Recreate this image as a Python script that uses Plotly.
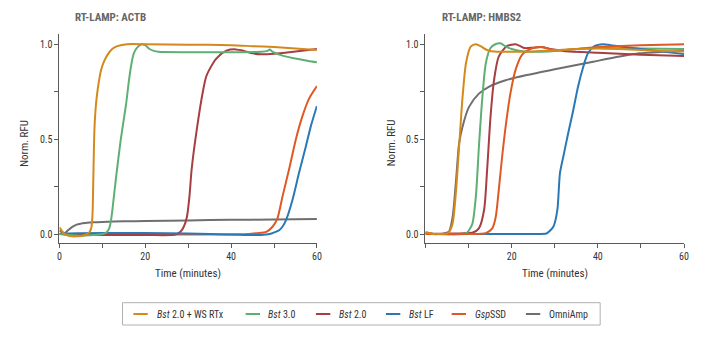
import plotly.graph_objects as go

W, H = 725, 341

series_names = ["<i>Bst</i> 2.0 + WS RTx", "<i>Bst</i> 3.0", "<i>Bst</i> 2.0", "<i>Bst</i> LF", "<i>Gsp</i>SSD", "OmniAmp"]
series_colors = ["#D4891B", "#5DAF73", "#A63E42", "#2A79B6", "#DF5A23", "#6F6F72"]

panel_titles = ["RT-LAMP: ACTB", "RT-LAMP: HMBS2"]

# ---------------- ACTB ----------------
actb_t_ws = [0, 1, 2, 3, 4, 5, 6, 6.8, 7.4, 7.7, 7.9, 8.15, 8.5, 8.9, 9.7, 10.4, 11.2, 12.3, 13.5, 15.8, 20, 30, 40, 45, 50, 55, 60]
actb_v_ws = [0.035, 0.005, -0.008, -0.012, -0.012, -0.01, -0.005, 0.005, 0.03, 0.1, 0.3, 0.55, 0.68, 0.76, 0.865, 0.91, 0.944, 0.975, 0.99, 1.0, 1.0, 0.998, 0.995, 0.99, 0.985, 0.978, 0.97]

actb_t_b30 = [0, 2, 4, 6, 8, 10, 11, 11.6, 12.0, 12.3, 13.2, 14.3, 15.5, 16.2, 16.8, 17.3, 18.0, 19.2, 20, 21, 22, 23, 30, 40, 47, 48.5, 49, 49.7, 52, 55, 58, 60]
actb_v_b30 = [0.0, -0.005, -0.008, -0.008, -0.005, 0.0, 0.01, 0.03, 0.07, 0.12, 0.30, 0.5, 0.68, 0.81, 0.9, 0.95, 0.98, 1.0, 0.995, 0.975, 0.965, 0.96, 0.958, 0.958, 0.96, 0.965, 0.972, 0.96, 0.94, 0.925, 0.912, 0.905]

actb_t_b20 = [0, 5, 10, 20, 27, 28.2, 29, 29.7, 30.3, 30.8, 32, 33.5, 34.2, 34.9, 36.6, 38.9, 41.1, 43, 45, 47, 50, 55, 60]
actb_v_b20 = [0.0, -0.005, -0.005, -0.005, -0.003, 0.012, 0.04, 0.09, 0.2, 0.34, 0.55, 0.76, 0.83, 0.865, 0.926, 0.966, 0.973, 0.965, 0.952, 0.947, 0.95, 0.962, 0.975]

actb_t_lf = [0, 1, 5, 15, 25, 35, 42, 47, 49, 50.2, 51.2, 52, 52.8, 54.3, 55.8, 57.4, 58.6, 60]
actb_v_lf = [0.0, 0.003, 0.005, 0.006, 0.005, 0.0, -0.004, -0.005, 0.0, 0.01, 0.02, 0.04, 0.074, 0.18, 0.32, 0.46, 0.57, 0.675]

actb_t_gsp = [0, 10, 30, 44, 46, 48.2, 49.7, 50.8, 52, 53.5, 55.1, 56.6, 58.2, 60]
actb_v_gsp = [0.0, -0.002, -0.002, 0.0, 0.005, 0.012, 0.04, 0.083, 0.2, 0.34, 0.5, 0.62, 0.715, 0.78]

actb_t_omni = [0, 0.5, 1.2, 2, 3, 4, 5, 6, 8, 10, 15, 20, 30, 40, 50, 60]
actb_v_omni = [0.02, 0.01, 0.005, 0.02, 0.038, 0.05, 0.055, 0.058, 0.062, 0.064, 0.067, 0.069, 0.072, 0.075, 0.077, 0.079]

# ---------------- HMBS2 ----------------
hmbs_t_ws = [0, 1, 2, 3, 4, 5, 5.5, 6.3, 7.1, 7.8, 8.6, 9.4, 10.5, 11.7, 12.8, 13.8, 14.7, 16, 20, 25, 30, 35, 40, 45, 50, 55, 60]
hmbs_v_ws = [0.01, 0.005, 0.0, 0.0, 0.0, 0.004, 0.012, 0.056, 0.23, 0.46, 0.72, 0.9, 0.987, 1.0, 0.99, 0.975, 0.966, 0.962, 0.96, 0.962, 0.968, 0.975, 0.978, 0.975, 0.97, 0.965, 0.962]

hmbs_t_b30 = [0, 3, 8, 9.5, 10.1, 10.9, 11.7, 12.4, 13.2, 14, 15.1, 16.2, 17.4, 18.5, 20, 22, 25, 30, 35, 40, 50, 60]
hmbs_v_b30 = [0.005, 0.0, 0.0, 0.005, 0.02, 0.056, 0.2, 0.46, 0.72, 0.9, 0.98, 1.0, 1.005, 0.99, 0.975, 0.965, 0.96, 0.965, 0.975, 0.98, 0.978, 0.975]

hmbs_t_b20 = [0, 3, 6, 9, 11, 12.4, 13.6, 14.3, 15.1, 15.9, 17, 18.9, 20.9, 22, 23, 25, 27, 29, 32, 40, 50, 60]
hmbs_v_b20 = [0.005, 0.002, 0.003, 0.005, 0.008, 0.03, 0.127, 0.337, 0.62, 0.81, 0.935, 0.99, 1.0, 0.99, 0.98, 0.982, 0.985, 0.975, 0.965, 0.955, 0.945, 0.938]

hmbs_t_lf = [0, 10, 20, 27, 28.1, 29.7, 30.6, 31.2, 32, 33.1, 34.3, 35.4, 36.6, 37.7, 39.2, 41.2, 43, 50, 55, 60]
hmbs_v_lf = [0.0, 0.0, 0.0, 0.001, 0.003, 0.04, 0.127, 0.32, 0.41, 0.53, 0.654, 0.776, 0.88, 0.952, 0.99, 1.0, 0.995, 0.975, 0.962, 0.948]

hmbs_t_gsp = [0, 10, 14, 15.5, 16.3, 17, 17.8, 18.6, 19.7, 20.9, 22.4, 24.3, 26.5, 28, 30, 35, 40, 50, 60]
hmbs_v_gsp = [0.0, 0.0, 0.005, 0.03, 0.09, 0.23, 0.41, 0.566, 0.74, 0.865, 0.944, 0.975, 0.985, 0.98, 0.968, 0.975, 0.985, 0.995, 1.0]

hmbs_t_omni = [0, 1, 2, 3, 4, 5, 5.5, 6.3, 7.1, 7.8, 8.6, 10.1, 12.4, 14.7, 18.6, 23.5, 30, 38.9, 45, 49.6, 55, 60]
hmbs_v_omni = [0.01, 0.005, 0.0, 0.0, 0.002, 0.008, 0.015, 0.09, 0.285, 0.478, 0.566, 0.67, 0.74, 0.776, 0.81, 0.838, 0.868, 0.908, 0.935, 0.952, 0.96, 0.965]

x_tickvals = [0, 10, 20, 30, 40, 50, 60]
x_ticktext_left = ["0", "", "20", "", "40", "", "60"]
x_ticktext_right = ["", "", "20", "", "40", "", "60"]
y_tickvals = [0, 0.25, 0.5, 0.75, 1.0]
y_ticktext = ["0.0", "", "0.5", "", "1.0"]

x_title = "Time (minutes)"
y_title = "Norm. RFU"

FONT = "Liberation Sans Narrow, Arial Narrow, Roboto Condensed, Liberation Sans, Arial, sans-serif"

panels = [
    [(actb_t_omni, actb_v_omni, 5), (actb_t_gsp, actb_v_gsp, 4), (actb_t_b20, actb_v_b20, 2),
     (actb_t_lf, actb_v_lf, 3), (actb_t_b30, actb_v_b30, 1), (actb_t_ws, actb_v_ws, 0)],
    [(hmbs_t_omni, hmbs_v_omni, 5), (hmbs_t_b20, hmbs_v_b20, 2), (hmbs_t_b30, hmbs_v_b30, 1),
     (hmbs_t_lf, hmbs_v_lf, 3), (hmbs_t_gsp, hmbs_v_gsp, 4), (hmbs_t_ws, hmbs_v_ws, 0)],
]

fig = go.Figure()
for p, traces in enumerate(panels):
    xa = "x" if p == 0 else "x2"
    ya = "y" if p == 0 else "y2"
    for t, v, idx in traces:
        fig.add_trace(go.Scatter(
            x=t, y=v, mode="lines", name=series_names[idx],
            line=dict(color=series_colors[idx], width=2, shape="spline", smoothing=0.7),
            xaxis=xa, yaxis=ya, showlegend=False, hoverinfo="skip"))

# pixel geometry
def px_x(px):
    return px / W

def px_y(py):
    return 1 - py / H

y_dom = [px_y(243), px_y(34)]
x_dom_left = [px_x(58), px_x(318)]
x_dom_right = [px_x(427.6), px_x(688.7)]

axis_common = dict(showgrid=False, zeroline=False, showline=True, linecolor="#5a5a5a", linewidth=1,
                   ticks="outside", ticklen=4, tickcolor="#5a5a5a", tickwidth=1,
                   tickfont=dict(family=FONT, size=10, color="#333333"))

fig.update_layout(
    width=W, height=H, margin=dict(l=0, r=0, t=0, b=0),
    paper_bgcolor="white", plot_bgcolor="white",
    font=dict(family=FONT, size=10, color="#333333"),
    showlegend=False,
    xaxis=dict(domain=x_dom_left, range=[0, 60], tickvals=x_tickvals, ticktext=x_ticktext_left, anchor="y", **axis_common),
    yaxis=dict(domain=y_dom, range=[-0.047, 1.054], tickvals=y_tickvals, ticktext=y_ticktext, anchor="x", **axis_common),
    xaxis2=dict(domain=x_dom_right, range=[0, 60], tickvals=x_tickvals, ticktext=x_ticktext_right, anchor="y2", **axis_common),
    yaxis2=dict(domain=y_dom, range=[-0.047, 1.054], tickvals=y_tickvals, ticktext=y_ticktext, anchor="x2", **axis_common),
)

annotations = []
title_x = [72, 442]
ytitle_x = [22, 393]
xtitle_x = [188, 558]
for i in range(2):
    annotations.append(dict(text="<b>" + panel_titles[i] + "</b>", x=px_x(title_x[i]), y=px_y(17.5),
                            xref="paper", yref="paper", xanchor="left", yanchor="middle", showarrow=False,
                            font=dict(family=FONT, size=11, color="#666666")))
    annotations.append(dict(text=y_title, x=px_x(ytitle_x[i]), y=px_y(143), textangle=-90,
                            xref="paper", yref="paper", xanchor="center", yanchor="middle", showarrow=False,
                            font=dict(family=FONT, size=11, color="#333333")))
    annotations.append(dict(text=x_title, x=px_x(xtitle_x[i]), y=px_y(273),
                            xref="paper", yref="paper", xanchor="center", yanchor="middle", showarrow=False,
                            font=dict(family=FONT, size=11, color="#333333")))

# legend (drawn manually)
shapes = [dict(type="rect", xref="paper", yref="paper", x0=px_x(121.7), x1=px_x(604), y0=px_y(325), y1=px_y(302.7),
               line=dict(color="#b0b0b0", width=1), fillcolor="white", layer="below")]
leg_line_x = [132.7, 246, 317, 387.7, 454, 529]
leg_text_x = [154, 267, 338, 409, 476, 550.5]
leg_y = 314
for i in range(6):
    shapes.append(dict(type="line", xref="paper", yref="paper", x0=px_x(leg_line_x[i]), x1=px_x(leg_line_x[i] + 14.5),
                       y0=px_y(leg_y), y1=px_y(leg_y), line=dict(color=series_colors[i], width=2)))
    annotations.append(dict(text=series_names[i], x=px_x(leg_text_x[i]), y=px_y(leg_y),
                            xref="paper", yref="paper", xanchor="left", yanchor="middle", showarrow=False,
                            font=dict(family=FONT, size=10, color="#333333")))

fig.update_layout(annotations=annotations, shapes=shapes)
fig.write_html("out.html")
